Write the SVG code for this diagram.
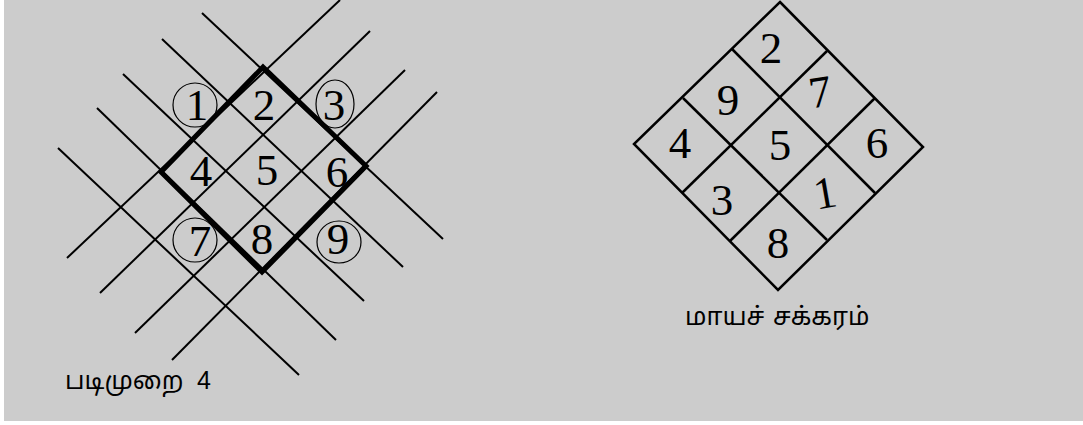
<svg xmlns="http://www.w3.org/2000/svg" width="1083" height="425" viewBox="0 0 1083 425">
  <style>
    .thin { stroke: #000; stroke-width: 2; fill: none; stroke-linecap: butt; }
    .thick { stroke: #000; stroke-width: 5; fill: none; stroke-linejoin: miter; }
    .grid { stroke: #000; stroke-width: 2.5; fill: none; }
    .ring { stroke: #000; stroke-width: 1.2; fill: none; }
    .num { font-family: "Liberation Serif", "Times New Roman", serif; font-size: 45px; fill: #000; text-anchor: middle; }
    .lbl { font-family: "Noto Sans Tamil", "Lohit Tamil", "Latha", "Noto Sans", sans-serif; font-size: 25px; fill: #000; }
    .lbl4 { font-family: "Liberation Sans", Arial, sans-serif; font-size: 25px; fill: #000; }
  </style>
  <rect x="4" y="0" width="1079" height="421" fill="#cccccc"/>

  <g id="connectors">
    <!-- left grid: "\" family -->
    <line class="thin" x1="202" y1="13" x2="443" y2="239"/>
    <line class="thin" x1="162" y1="39" x2="403" y2="267"/>
    <line class="thin" x1="123" y1="74" x2="364" y2="301"/>
    <line class="thin" x1="97" y1="108" x2="336" y2="340"/>
    <line class="thin" x1="58" y1="148" x2="299" y2="375"/>
    <!-- left grid: "/" family -->
    <line class="thin" x1="340" y1="0" x2="67" y2="258"/>
    <line class="thin" x1="370" y1="31" x2="100" y2="293"/>
    <line class="thin" x1="405" y1="70" x2="135" y2="333"/>
    <line class="thin" x1="437" y1="92" x2="172" y2="360"/>
    <!-- thick frame -->
    <polygon class="thick" points="263,67 366,166 262,272 161,172"/>
  </g>

  <g id="left-numbers">
    <ellipse class="ring" cx="195" cy="105" rx="22" ry="22"/>
    <ellipse class="ring" cx="335" cy="104" rx="19" ry="24"/>
    <ellipse class="ring" cx="195" cy="240" rx="22" ry="22"/>
    <ellipse class="ring" cx="339" cy="242" rx="22" ry="21"/>
    <text class="num" x="197" y="120">1</text>
    <text class="num" x="264" y="120">2</text>
    <text class="num" x="334" y="120">3</text>
    <text class="num" x="201" y="186">4</text>
    <text class="num" x="267" y="185">5</text>
    <text class="num" x="337" y="187">6</text>
    <text class="num" x="200" y="256">7</text>
    <text class="num" x="262" y="254">8</text>
    <text class="num" x="338" y="254">9</text>
  </g>

  <g id="left-label">
    <text class="lbl" x="65" y="389">படிமுறை</text>
    <text class="lbl4" x="197" y="389">4</text>
  </g>

  <g id="magic-square">
    <polygon class="grid" points="780,2 923,147 778,290 634,144"/>
    <line class="grid" x1="732" y1="49" x2="875" y2="193"/>
    <line class="grid" x1="683" y1="98" x2="827" y2="240"/>
    <line class="grid" x1="827" y1="51" x2="682" y2="193"/>
    <line class="grid" x1="875" y1="98" x2="730" y2="241"/>
    <text class="num" x="771" y="63">2</text>
    <text class="num" x="728" y="115">9</text>
    <text class="num" x="820" y="107" transform="rotate(-8 820 92)">7</text>
    <text class="num" x="680" y="158">4</text>
    <text class="num" x="780" y="160">5</text>
    <text class="num" x="877" y="158">6</text>
    <text class="num" x="722" y="215">3</text>
    <text class="num" x="825" y="208" transform="rotate(-10 825 193)">1</text>
    <text class="num" x="778" y="258">8</text>
  </g>

  <g id="magic-label">
    <text class="lbl" x="685" y="325">மாயச்<tspan x="773">சக்கரம்</tspan></text>
  </g>
</svg>
